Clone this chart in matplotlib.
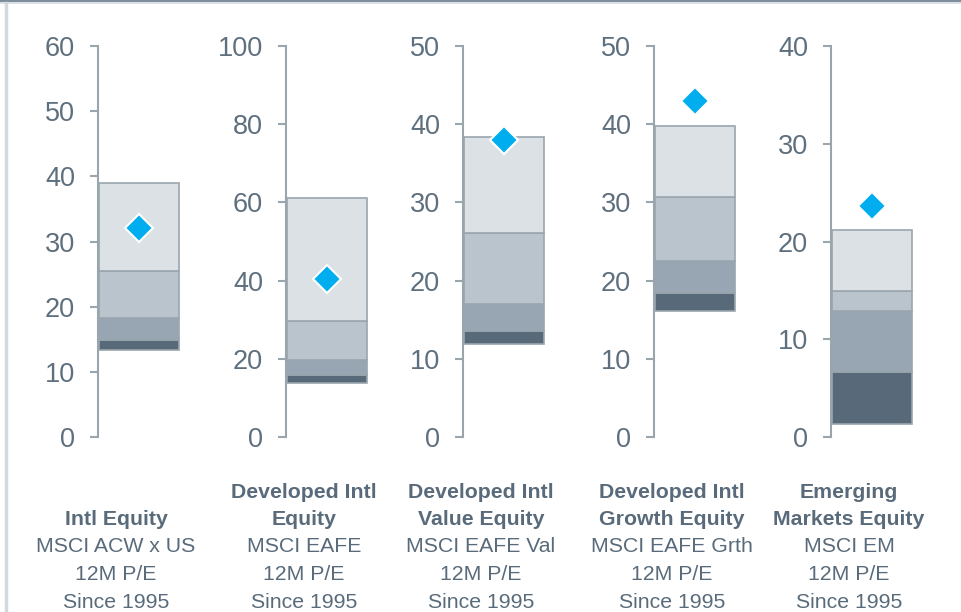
import matplotlib.pyplot as plt
from matplotlib.lines import Line2D


# percentile band edges per panel (bottom -> top), plus current value
panel_titles = [
    ["Intl Equity"],
    ["Developed Intl", "Equity"],
    ["Developed Intl", "Value Equity"],
    ["Developed Intl", "Growth Equity"],
    ["Emerging", "Markets Equity"],
]
panel_indexes = ["MSCI ACW x US", "MSCI EAFE", "MSCI EAFE Val", "MSCI EAFE Grth", "MSCI EM"]
panel_metric = "12M P/E"
panel_since = "Since 1995"

band_edges = [
    [13.4, 14.9, 18.3, 25.4, 39.0],
    [13.8, 15.8, 19.6, 29.7, 61.1],
    [11.9, 13.6, 17.0, 26.1, 38.4],
    [16.1, 18.4, 22.5, 30.7, 39.8],
    [1.3, 6.6, 12.9, 14.9, 21.2],
]
current_values = [32.1, 40.4, 38.0, 43.0, 23.6]
y_max = [60, 100, 50, 50, 40]
y_step = [10, 20, 10, 10, 10]

BAND_COLORS = ["#586a79", "#97a6b2", "#bac4cc", "#dce1e5"]
EDGE = "#9aa5ae"
TEXT = "#596b7a"
DIAMOND = "#00aeef"

W, H = 961, 612
SPINE_X = [98, 286, 463, 654, 831]
BAR_W = 82
Y_TOP, Y_ZERO = 46, 437


def main():
    plt.rcParams["font.family"] = ["Liberation Sans", "DejaVu Sans"]
    fig = plt.figure(figsize=(W / 100, H / 100), dpi=100)

    # frame lines along the top and left edge
    fig.add_artist(Line2D([0, 1], [1 - 1 / H, 1 - 1 / H], color="#7d8d9c", lw=1.5,
                          transform=fig.transFigure))
    fig.add_artist(Line2D([0, 1], [1 - 3 / H, 1 - 3 / H], color="#d5dce3", lw=1.2,
                          transform=fig.transFigure))
    fig.add_artist(Line2D([5.5 / W, 5.5 / W], [0, 1 - 3 / H], color="#d0d8e0", lw=2.5,
                          transform=fig.transFigure))

    for i, edges in enumerate(band_edges):
        ax = fig.add_axes([SPINE_X[i] / W, 1 - Y_ZERO / H, BAR_W / W, (Y_ZERO - Y_TOP) / H])
        ax.set_xlim(0, 1)
        ax.set_ylim(0, y_max[i])
        ax.set_yticks(range(0, y_max[i] + 1, y_step[i]))
        ax.set_xticks([])
        for side in ["top", "right", "bottom"]:
            ax.spines[side].set_visible(False)
        ax.spines["left"].set_color(EDGE)
        ax.spines["left"].set_linewidth(1.5)
        ax.tick_params(axis="y", length=6, width=1.5, color=EDGE, labelcolor="#5e6f7e",
                       labelsize=19.5, pad=10.5)
        ax.patch.set_visible(False)

        for k in range(len(edges) - 1):
            ax.bar(0.01, edges[k + 1] - edges[k], width=0.98, bottom=edges[k], align="edge",
                   color=BAND_COLORS[k], edgecolor=EDGE, linewidth=1.2, zorder=2)

        ax.plot([0.5], [current_values[i]], marker="D", markersize=14.5, color=DIAMOND,
                markeredgecolor="white", markeredgewidth=1.5, zorder=4, clip_on=False)

        # labels under each panel
        cx = (SPINE_X[i] + 18) / W
        lines = panel_titles[i] + [panel_indexes[i], panel_metric, panel_since]
        n = len(lines)
        for j, line in enumerate(lines):
            y_px = 602 - (n - 1 - j) * 27.5
            bold = j < len(panel_titles[i])
            fig.text(cx, 1 - y_px / H, line, ha="center", va="center", fontsize=15.3,
                     color=TEXT, fontweight="bold" if bold else "normal")

    fig.savefig("out.png", dpi=100)
    plt.close(fig)


if __name__ == "__main__":
    main()
